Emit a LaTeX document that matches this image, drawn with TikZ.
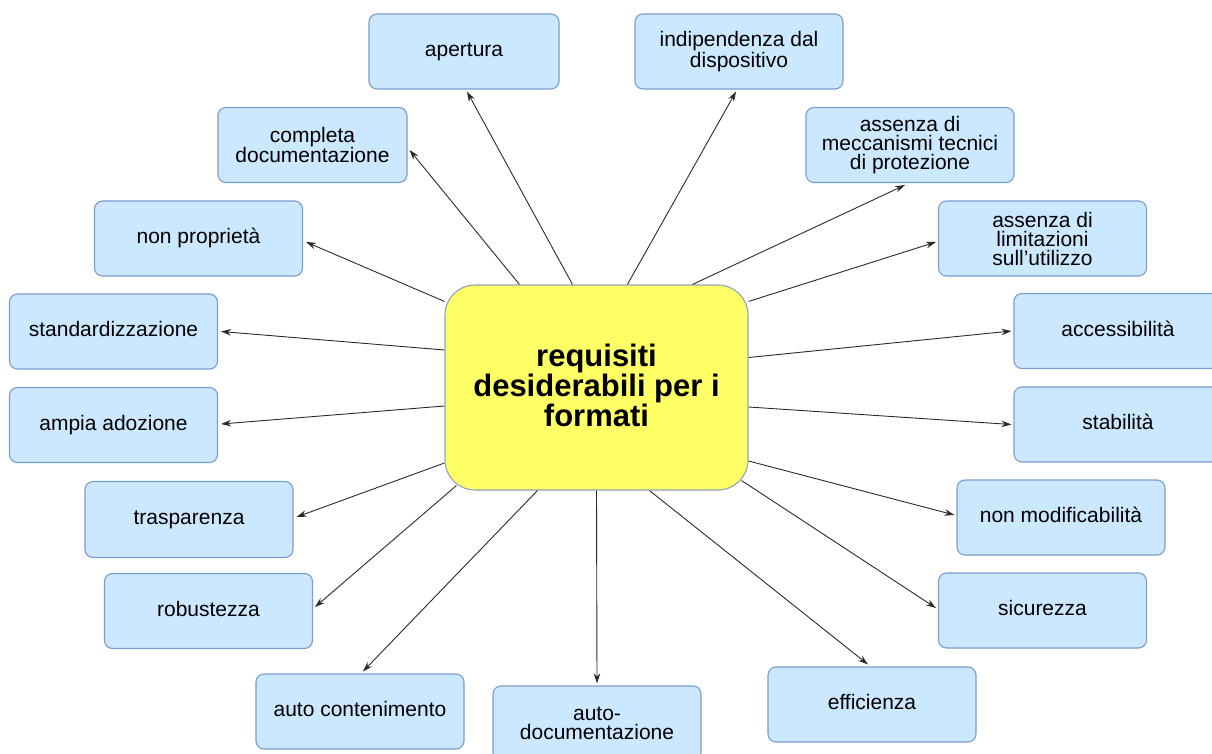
\documentclass[tikz,border=0pt]{standalone}
\usepackage{fontspec}
\setmainfont{Liberation Sans}
\usetikzlibrary{arrows.meta}
\definecolor{boxfill}{HTML}{CCE8FF}
\definecolor{boxline}{HTML}{7A9CCF}
\definecolor{mainfill}{HTML}{FFFF66}
\definecolor{mainline}{HTML}{8FA3C0}
\definecolor{arrline}{HTML}{2A2A2A}
\begin{document}
\begin{tikzpicture}[x=1pt,y=-1pt,
  req/.style={draw=boxline, fill=boxfill, line width=1.1pt, rounded corners=8pt,
    minimum width=208pt, minimum height=75pt, inner sep=0pt, align=center,
    font=\fontsize{21}{19}\selectfont},
  oneline/.style={text height=15pt, text depth=5pt},
  hub/.style={draw=mainline, fill=mainfill, line width=1.1pt, rounded corners=30pt,
    minimum width=303pt, minimum height=205pt, inner sep=0pt, align=center,
    font=\bfseries\fontsize{31}{28}\selectfont},
  arr/.style={draw=arrline, line width=0.9pt, -{Stealth[length=10pt,width=6.5pt]}}]
\useasboundingbox (0,0) rectangle (1212,754);

\node[hub] (c) at (596.5,387.5) {requisiti\\desiderabili per i\\formati\rule[-5pt]{0pt}{5pt}};

\node[req,oneline,minimum width=190pt] (ap) at (464,51.5) {apertura};
\node[req] (ind) at (739,51.5) {indipendenza dal\\dispositivo};
\node[req,minimum width=189pt] (comp) at (312.5,145) {completa\\documentazione};
\node[req] (mec) at (910,145) {assenza di\\meccanismi tecnici\\di protezione};
\node[req,oneline] (np) at (198.5,238.5) {non proprietà};
\node[req] (lim) at (1042.5,238.5) {assenza di\\limitazioni\\sull’utilizzo};
\node[req,oneline] (std) at (113.5,331.5) {standardizzazione};
\node[req,oneline] (acc) at (1118,331) {accessibilità};
\node[req,oneline] (amp) at (113.5,425) {ampia adozione};
\node[req,oneline] (stab) at (1118,424.5) {stabilità};
\node[req,oneline,minimum height=76pt] (tra) at (189,519.5) {trasparenza};
\node[req,oneline] (nm) at (1061,517.5) {non modificabilità};
\node[req,oneline] (rob) at (208.5,611) {robustezza};
\node[req,oneline] (sic) at (1042.5,610.5) {sicurezza};
\node[req,oneline] (ac) at (360,711.5) {auto contenimento};
\node[req] (ad) at (597,723.5) {auto-\\documentazione};
\node[req,oneline] (eff) at (872,704.5) {efficienza};

\draw[arr] ([xshift=75pt]c.north west) -- ([xshift=2pt,yshift=-5pt]comp.east);
\draw[arr] ([xshift=128pt]c.north west) -- ([xshift=3pt,yshift=-2pt]ap.south);
\draw[arr] ([xshift=183pt]c.north west) -- ([xshift=-3pt,yshift=-2pt]ind.south);
\draw[arr] ([xshift=248pt]c.north west) -- ([xshift=-5pt,yshift=-2pt]mec.south);
\draw[arr] ([yshift=-17pt]c.north east) -- ([xshift=-2pt,yshift=-3.5pt]lim.west);
\draw[arr] ([yshift=30pt]c.east) -- ([xshift=-2pt]acc.west);
\draw[arr] ([yshift=-19.5pt]c.east) -- ([xshift=-2pt]stab.west);
\draw[arr] ([yshift=-73.5pt]c.east) -- ([xshift=-2pt,yshift=2.5pt]nm.west);
\draw[arr] ([xshift=-7pt,yshift=10pt]c.south east) -- ([xshift=-2pt,yshift=2.5pt]sic.west);
\draw[arr] ([xshift=205pt]c.south west) -- ([xshift=-4pt,yshift=2pt]eff.north);
\draw[arr] (c.south) -- ([yshift=2pt]ad.north);
\draw[arr] ([xshift=93pt]c.south west) -- ([xshift=3pt,yshift=2pt]ac.north);
\draw[arr] ([xshift=12pt,yshift=5pt]c.south west) -- ([xshift=2pt,yshift=4pt]rob.east);
\draw[arr] ([yshift=-75.5pt]c.west) -- ([xshift=3pt,yshift=2.5pt]tra.east);
\draw[arr] ([yshift=-18.5pt]c.west) -- ([xshift=3pt,yshift=1pt]amp.east);
\draw[arr] ([yshift=37.5pt]c.west) -- ([xshift=3pt]std.east);
\draw[arr] ([yshift=-17pt]c.north west) -- ([xshift=3pt,yshift=-3.5pt]np.east);
\end{tikzpicture}
\end{document}
